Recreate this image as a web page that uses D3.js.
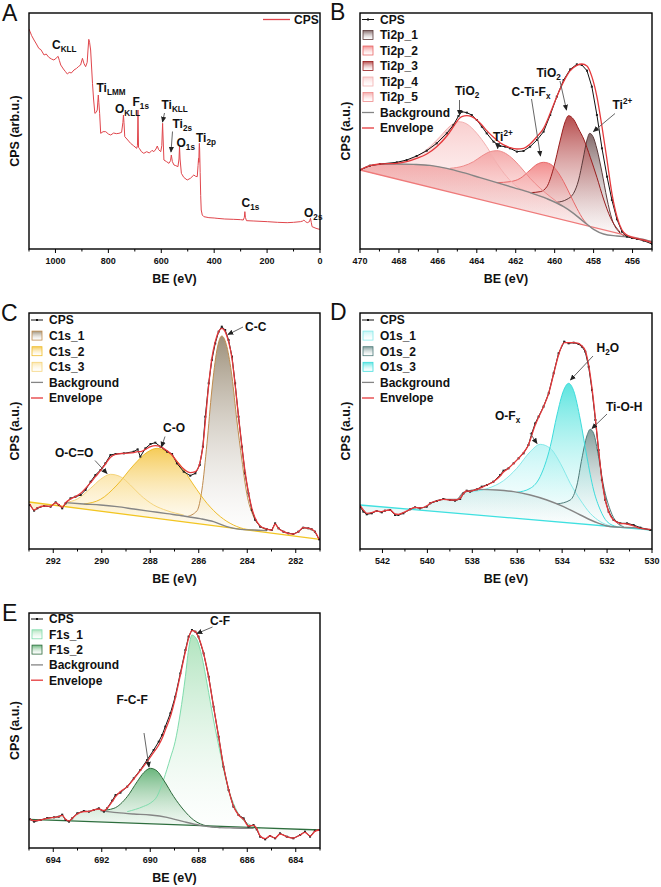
<!DOCTYPE html>
<html><head><meta charset="utf-8">
<script src="https://cdn.jsdelivr.net/npm/d3@7"></script>
<style>body{margin:0;background:#fff}svg{display:block}text{font-family:"Liberation Sans",Arial,sans-serif}</style>
</head><body><svg id="c" width="661" height="887"></svg>
<script>
// ---------- DATA (BE in eV, intensity in arbitrary units) ----------
const survey = [[1100,660],[1096,652],[1090,640],[1081,627],[1072,615],[1063,602],[1055,598],[1043,582],[1035,585],[1025,575],[1015,570],[1006,567],[998,572],[990,578],[985,565],[980,552],[970,540],[962,532],[955,525],[948,530],[940,528],[930,537],[920,542],[912,548],[905,552],[898,572],[892,556],[886,547],[880,560],[877,597],[874,629],[871,620],[867,597],[863,540],[860,497],[856,450],[851,407],[846,410],[842,417],[838,462],[836,440],[833,407],[829,347],[820,352],[810,352],[800,345],[791,342],[780,348],[770,346],[760,347],[750,350],[745,380],[743,402],[741,380],[738,337],[730,330],[716,317],[705,310],[693,302],[690,310],[688,417],[686,305],[683,302],[675,292],[666,287],[655,292],[645,288],[635,296],[628,292],[620,300],[615,309],[610,298],[602,292],[598,310],[595,377],[593,330],[590,267],[580,262],[571,257],[565,265],[562,282],[558,262],[552,252],[545,250],[537,247],[533,270],[531,307],[529,270],[524,227],[515,215],[502,207],[490,212],[477,222],[470,218],[464,217],[461,250],[459,272],[458,260],[457,300],[456,317],[455,300],[453,230],[451,160],[449,117],[445,102],[439,97],[420,94],[400,93],[389,92],[360,90],[326,89],[300,88],[290,87],[286,95],[284,112],[282,95],[278,85],[250,84],[199,82],[160,80],[124,79],[100,80],[74,82],[65,84],[61,87],[55,82],[48,79],[40,82],[36,92],[33,80],[30,67],[15,62],[2,59],[0,58]];

const tiBE  = [470.00,469.49,468.97,468.11,467.60,467.09,466.57,466.06,465.54,465.20,464.94,464.77,464.51,464.26,464.00,463.74,463.49,463.14,462.80,462.54,462.29,461.94,461.60,461.26,460.91,460.57,460.23,459.89,459.54,459.20,458.86,458.60,458.34,458.09,457.83,457.57,457.31,457.06,456.80,456.54,456.29,456.03,455.77,455.43,455.00];
const tiCPS = [237,250,255,260,267,279,295,317,347,372,399,412,409,402,387,367,347,322,309,307,302,292,294,307,327,352,402,457,507,539,554,552,535,487,402,302,217,147,89,52,37,33,30,25,15];
const tiEnv = [237,250,255,257,262,272,285,307,339,367,389,397,400,397,387,372,355,335,319,310,304,300,302,315,337,362,407,457,502,535,551,555,549,517,457,367,267,167,97,57,42,35,31,27,19];
const tiBg  = [[470.00,237],[469.49,250],[468.97,254],[468.11,255],[467.26,254],[466.40,251],[465.54,242],[464.69,229],[463.83,214],[462.97,199],[462.11,184],[461.26,169],[460.40,151],[459.54,127],[459.03,107],[458.51,82],[458.00,59],[457.49,45],[456.80,39],[456.11,35],[455.43,29],[455.00,22]];
const tiBase = [[470,237],[455,22]];
const ti2p1 = [[459.89,140],[459.37,149],[459.03,167],[458.77,207],[458.55,267],[458.34,327],[458.20,347],[458.03,337],[457.83,300],[457.57,230],[457.31,150],[457.06,90],[456.71,52],[456.29,37]];
const ti2p2 = [[462.97,199],[462.29,202],[461.77,212],[461.26,237],[460.91,254],[460.57,260],[460.23,255],[459.89,235],[459.54,202],[459.20,162],[458.86,122],[458.51,87],[458.00,59]];
const ti2p3 = [[461.26,169],[460.74,172],[460.40,187],[460.06,242],[459.71,327],[459.46,382],[459.29,400],[459.03,389],[458.77,360],[458.51,330],[458.17,275],[457.83,215],[457.49,150],[457.14,95],[456.63,50]];
const ti2p4 = [[468.97,254],[467.77,262],[467.09,277],[466.40,307],[465.89,337],[465.37,369],[464.94,382],[464.51,375],[464.00,347],[463.49,307],[462.97,257],[462.46,217],[461.94,187],[461.26,170],[460.40,151]];
const ti2p5 = [[465.37,242],[464.69,249],[464.17,262],[463.74,279],[463.31,292],[462.97,295],[462.63,290],[462.20,273],[461.77,247],[461.26,212],[460.74,182],[460.23,157],[459.54,127]];

const cBE  = [292.96,292.79,292.66,292.38,292.11,291.90,291.77,291.63,291.49,291.29,291.08,290.87,290.67,290.46,290.26,290.05,289.85,289.64,289.43,289.09,288.68,288.52,288.41,288.20,287.99,287.79,287.58,287.31,287.10,286.90,286.62,286.35,286.14,285.96,285.83,285.73,285.59,285.46,285.32,285.18,285.05,284.91,284.77,284.63,284.50,284.36,284.22,284.09,283.95,283.81,283.67,283.47,283.19,282.99,282.85,282.71,282.51,282.30,282.10,281.89,281.69,281.48,281.34,281.21,281.04];
const cCPS = [132,115,122,129,127,140,132,122,137,152,157,162,177,202,222,237,257,282,285,287,292,299,277,302,315,319,307,292,285,257,232,220,227,252,307,397,497,567,617,652,667,657,627,577,497,397,307,227,167,117,87,67,59,57,77,62,52,47,45,52,64,62,59,52,29];
const cEnv = [135,117,123,129,128,139,133,125,139,150,157,167,182,199,217,235,255,275,284,287,289,292,292,299,307,310,307,295,282,262,240,229,232,257,307,382,492,572,622,652,662,652,622,572,492,397,307,232,169,122,92,69,60,57,75,62,52,47,45,52,64,62,59,52,29];
const cBg  = [[291.49,139],[290.74,135],[290.05,132],[289.37,127],[288.68,120],[287.99,113],[287.31,106],[286.62,99],[285.94,91],[285.39,82],[284.84,67],[284.29,59],[283.74,57],[283.19,55]];
const cBase = [[293,141],[281,29]];
const c1s1 = [[286.49,97],[286.07,115],[285.87,177],[285.66,317],[285.46,477],[285.25,597],[285.05,639],[284.84,607],[284.63,517],[284.43,387],[284.22,267],[284.02,167],[283.74,97],[283.47,69],[283.19,57]];
const c1s2 = [[290.74,135],[290.05,149],[289.37,192],[288.68,252],[288.13,290],[287.72,302],[287.31,292],[286.76,252],[286.21,192],[285.66,137],[285.11,97],[284.57,72],[284.02,59],[283.47,56]];
const c1s3 = [[291.49,139],[291.01,150],[290.46,182],[290.05,209],[289.64,224],[289.23,217],[288.82,192],[288.41,162],[287.86,132],[287.31,115],[286.62,102]];

const dBE  = [543.00,542.85,542.70,542.48,542.26,542.03,541.89,541.66,541.44,541.29,541.07,540.77,540.55,540.33,540.03,539.88,539.58,539.29,538.99,538.77,538.54,538.39,538.25,538.10,537.80,537.58,537.35,537.06,536.76,536.61,536.39,536.16,535.94,535.72,535.50,535.35,535.20,535.05,534.83,534.60,534.38,534.16,533.91,533.71,533.49,533.27,533.12,532.97,532.82,532.67,532.52,532.38,532.23,532.08,531.93,531.71,531.41,531.11,530.82,530.52,530.07];
const dCPS = [127,112,104,107,114,110,115,117,102,102,107,119,125,122,127,137,144,150,147,145,150,167,175,172,179,187,192,202,222,235,242,257,272,287,312,347,377,397,427,467,527,587,622,617,619,615,607,592,547,477,387,297,207,147,112,87,77,77,72,64,57];
const dEnv = [132,117,107,109,114,112,115,117,105,104,109,119,125,123,129,137,144,149,147,147,152,167,174,173,179,185,192,202,219,231,242,257,272,289,312,342,372,395,427,467,525,582,619,619,619,617,609,595,552,482,392,299,209,147,112,87,77,75,69,62,59];
const dBg  = [[539.88,137],[539.29,149],[538.69,149],[538.39,170],[537.65,179],[536.91,177],[536.16,172],[535.42,162],[534.68,147],[533.94,127],[533.19,102],[532.45,79],[532.00,69],[531.41,65],[530.82,64],[530.07,57]];
const dBase = [[543,132],[530,57]];
const o1s1 = [[538.10,171],[537.35,181],[536.61,205],[536.02,242],[535.42,292],[534.98,314],[534.53,302],[534.08,257],[533.64,197],[533.19,147],[532.75,107],[532.30,82],[531.86,69]];
const o1s2 = [[534.23,135],[533.64,147],[533.34,192],[533.12,272],[532.90,339],[532.75,359],[532.60,347],[532.38,277],[532.15,187],[531.86,117],[531.56,79],[531.26,67]];
const o1s3 = [[536.02,170],[535.42,182],[534.98,217],[534.53,307],[534.23,402],[533.94,475],[533.71,497],[533.49,475],[533.19,387],[532.90,277],[532.60,177],[532.30,117],[532.00,82],[531.56,67]];

const eBE  = [694.96,694.79,694.52,694.25,693.97,693.77,693.63,693.49,693.35,693.22,693.01,692.74,692.53,692.33,692.12,691.91,691.78,691.57,691.43,691.23,690.95,690.68,690.41,690.13,689.86,689.65,689.51,689.38,689.17,688.97,688.76,688.55,688.42,688.28,688.14,688.01,687.80,687.59,687.39,687.18,686.98,686.77,686.57,686.36,686.15,685.95,685.74,685.61,685.47,685.26,685.06,684.85,684.65,684.37,684.10,683.82,683.62,683.41,683.21,683.03];
const eCPS = [86,79,84,90,92,94,100,84,79,89,104,111,109,114,119,109,119,142,159,166,184,209,234,264,294,319,339,364,404,454,524,594,634,654,649,634,584,514,424,334,244,174,124,99,89,64,69,56,34,26,36,29,44,34,29,39,49,34,52,54];
const eEnv = [86,82,84,89,92,94,98,86,81,89,102,109,110,114,117,112,119,139,154,169,184,207,232,259,287,309,329,354,394,449,519,589,629,652,649,632,584,512,424,334,246,176,126,99,86,66,68,58,36,28,36,30,42,34,30,39,47,36,50,54];
const eBg  = [[692.05,112],[691.37,106],[690.68,102],[690.00,99],[689.31,92],[688.62,79],[687.94,68],[687.25,62],[686.57,60],[685.74,59]];
const eBase = [[695,86],[683,54]];
const f1s1 = [[690.95,109],[690.27,125],[689.99,135],[689.72,155],[689.45,205],[689.17,270],[688.97,320],[688.76,405],[688.55,515],[688.42,595],[688.28,639],[688.07,624],[687.87,574],[687.66,494],[687.39,384],[687.11,284],[686.84,194],[686.57,134],[686.29,94],[685.88,69],[685.47,60]];
const f1s2 = [[692.05,112],[691.50,119],[690.95,154],[690.54,199],[690.27,226],[689.99,239],[689.72,231],[689.45,204],[689.03,154],[688.62,114],[688.21,84],[687.66,66],[687.11,61]];

const ticksA = [1000,800,600,400,200,0];
const ticksB = [470,468,466,464,462,460,458,456];
const ticksC = [292,290,288,286,284,282];
const ticksD = [542,540,538,536,534,532,530];
const ticksE = [694,692,690,688,686,684];

// ---------- DRAWING ----------
const svg = d3.select('#c');
const defs = svg.append('defs');
defs.append('marker').attr('id','arr').attr('viewBox','0 0 8 8').attr('refX',7).attr('refY',4)
  .attr('markerWidth',6).attr('markerHeight',6).attr('markerUnits','userSpaceOnUse').attr('orient','auto')
  .append('path').attr('d','M0,0.5 L8,4 L0,7.5 Z').attr('fill','#222');

const ENV='#e5393c', BG='#858585';

function panel(o){
  const g = svg.append('g');
  const x = d3.scaleLinear().domain(o.xd).range([o.x0,o.x1]);
  const y = d3.scaleLinear().domain([0,o.ymax]).range([o.y1,o.y0]);
  const cid='clip'+o.id;
  defs.append('clipPath').attr('id',cid).append('rect').attr('x',o.x0).attr('y',o.y0).attr('width',o.x1-o.x0).attr('height',o.y1-o.y0);
  const pg = g.append('g').attr('clip-path',`url(#${cid})`);
  return {g,pg,x,y,o};
}

function frame(P, labelTicks, step, minorStep, ytitle){
  const {g,x,o}=P;
  const lo=Math.min(...o.xd), hi=Math.max(...o.xd);
  const minors=d3.range(Math.ceil(lo/minorStep)*minorStep, hi+1e-6, minorStep);
  g.selectAll(null).data(minors).enter().append('line')
    .attr('x1',d=>x(d)).attr('x2',d=>x(d)).attr('y1',o.y1).attr('y2',d=>o.y1+(Math.abs(d/step-Math.round(d/step))<1e-6?4:2.5))
    .attr('stroke','#000').attr('stroke-width',1);
  g.selectAll(null).data(labelTicks).enter().append('text')
    .attr('x',d=>x(d)).attr('y',o.y1+14.5).attr('text-anchor','middle')
    .attr('font-size',9).attr('font-weight','bold').attr('fill','#111').text(d=>d);
  g.append('rect').attr('x',o.x0).attr('y',o.y0).attr('width',o.x1-o.x0).attr('height',o.y1-o.y0)
    .attr('fill','none').attr('stroke','#000').attr('stroke-width',1.4);
  g.append('text').attr('x',(o.x0+o.x1)/2).attr('y',o.y1+34).attr('text-anchor','middle')
    .attr('font-size',12.5).attr('font-weight','bold').attr('fill','#111').text('BE (eV)');
  g.append('text').attr('transform',`translate(${o.x0-10},${(o.y0+o.y1)/2}) rotate(-90)`).attr('text-anchor','middle')
    .attr('font-size',12.5).attr('font-weight','bold').attr('fill','#111').text(ytitle);
  svg.append('text').attr('x',o.lx).attr('y',o.ly).attr('font-size',23).attr('fill','#111').text(o.letter);
}

function rich(g,x,y,segs,size){
  const t=g.append('text').attr('x',x).attr('y',y).attr('font-size',size).attr('font-weight','bold').attr('fill','#111');
  let sh=0;
  segs.forEach(s=>{
    const kind=s[1]||'';
    const tgt=kind==='sub'?3:(kind==='sup'?-5:0);
    t.append('tspan').attr('dy',tgt-sh).attr('font-size',kind?size*0.68:size).text(s[0]);
    sh=tgt;
  });
}
function arrow(g,a){
  g.append('line').attr('x1',a[0]).attr('y1',a[1]).attr('x2',a[2]).attr('y2',a[3])
    .attr('stroke','#555').attr('stroke-width',0.9).attr('marker-end','url(#arr)');
}

function fit(P, d){
  const {pg,x,y,o}=P;
  const cps=d.be.map((e,i)=>[e,d.cps[i]]);
  const env=d.be.map((e,i)=>[e,d.env[i]]);
  const b0=d.bg[0][0], b1=d.bg[d.bg.length-1][0];
  const bgExt=cps.filter(p=>p[0]>b0+0.01).concat(d.bg, cps.filter(p=>p[0]<b1-0.01));
  const base=e=>d.base[0][1]+(e-d.base[0][0])*(d.base[1][1]-d.base[0][1])/(d.base[1][0]-d.base[0][0]);
  const curve=d3.curveMonotoneX;
  d.comps.forEach((c,k)=>{
    const f=c.pts[0][0], l=c.pts[c.pts.length-1][0];
    const full=bgExt.filter(p=>p[0]>f+0.01).concat(c.pts, bgExt.filter(p=>p[0]<l-0.01));
    const gid=`gr${o.id}${k}`;
    const gr=defs.append('linearGradient').attr('id',gid).attr('x1',0).attr('y1',0).attr('x2',0).attr('y2',1);
    gr.append('stop').attr('offset',0).attr('stop-color',c.fill).attr('stop-opacity',c.op||0.85);
    gr.append('stop').attr('offset',1).attr('stop-color','#fff').attr('stop-opacity',0.25);
    c.gid=gid;
    pg.append('path').datum(full).attr('fill',`url(#${gid})`)
      .attr('d',d3.area().x(p=>x(p[0])).y0(p=>y(base(p[0]))).y1(p=>y(p[1])).curve(curve));
  });
  d.comps.forEach(c=>{
    pg.append('path').datum(c.pts).attr('fill','none').attr('stroke',c.stroke).attr('stroke-width',1)
      .attr('d',d3.line().x(p=>x(p[0])).y(p=>y(p[1])).curve(curve));
  });
  pg.append('path').datum(d.base).attr('fill','none').attr('stroke',d.baseColor).attr('stroke-width',1.3)
    .attr('d',d3.line().x(p=>x(p[0])).y(p=>y(p[1])));
  pg.append('path').datum(d.bg).attr('fill','none').attr('stroke',BG).attr('stroke-width',1.4)
    .attr('d',d3.line().x(p=>x(p[0])).y(p=>y(p[1])).curve(curve));
  pg.append('path').datum(cps).attr('fill','none').attr('stroke','#111').attr('stroke-width',1)
    .attr('d',d3.line().x(p=>x(p[0])).y(p=>y(p[1])));
  pg.selectAll(null).data(cps).enter().append('rect')
    .attr('x',p=>x(p[0])-1).attr('y',p=>y(p[1])-1).attr('width',2).attr('height',2).attr('fill','#222');
  pg.append('path').datum(env).attr('fill','none').attr('stroke',ENV).attr('stroke-width',1.3)
    .attr('d',d3.line().x(p=>x(p[0])).y(p=>y(p[1])).curve(curve));
  // legend
  const items=[{n:'CPS',t:'cps'}].concat(d.comps.map(c=>({n:c.name,t:'sw',c}))).concat([{n:'Background',t:'ln',col:BG},{n:'Envelope',t:'ln',col:ENV}]);
  items.forEach((it,i)=>{
    const cy=o.y0+d.lg[1]+i*d.lg[2], sx=o.x0+d.lg[0];
    if(it.t==='cps'){
      P.g.append('line').attr('x1',sx-1).attr('x2',sx+11).attr('y1',cy).attr('y2',cy).attr('stroke','#111').attr('stroke-width',1);
      P.g.append('rect').attr('x',sx+4).attr('y',cy-1).attr('width',2).attr('height',2).attr('fill','#111');
    } else if(it.t==='sw'){
      P.g.append('rect').attr('x',sx).attr('y',cy-4.5).attr('width',10).attr('height',9)
        .attr('fill',`url(#${it.c.gid})`).attr('stroke',it.c.stroke).attr('stroke-width',0.8);
    } else {
      P.g.append('line').attr('x1',sx-1).attr('x2',sx+11).attr('y1',cy).attr('y2',cy).attr('stroke',it.col).attr('stroke-width',1.3);
    }
    P.g.append('text').attr('x',o.x0+d.lg[0]+17).attr('y',cy+4.3).attr('font-size',12)
      .attr('font-weight','bold').attr('fill','#111').text(it.n);
  });
  d.ann.forEach(a=>{ rich(P.g,a.x,a.y,a.t,12); if(a.a) arrow(P.g,a.a); });
}

// ---- Panel A ----
const PA = panel({id:'A',xd:[1100,0],x0:29,x1:320,y0:13,y1:249,ymax:708,letter:'A',lx:2,ly:21});
PA.pg.append('path').datum(survey).attr('fill','none').attr('stroke','#e0464c').attr('stroke-width',1)
  .attr('d',d3.line().x(p=>PA.x(p[0])).y(p=>PA.y(p[1])));
frame(PA, ticksA, 200, 100, 'CPS (arb.u.)');
PA.g.append('line').attr('x1',263).attr('x2',290).attr('y1',19.5).attr('y2',19.5).attr('stroke','#e0464c').attr('stroke-width',1.3);
PA.g.append('text').attr('x',294).attr('y',23.8).attr('font-size',12).attr('font-weight','bold').attr('fill','#111').text('CPS');
const annA=[
  {x:52,y:49,t:[['C'],['KLL','sub']]},
  {x:96.5,y:91.5,t:[['Ti'],['LMM','sub']]},
  {x:115,y:113,t:[['O'],['KLL','sub']]},
  {x:132.5,y:106,t:[['F'],['1s','sub']]},
  {x:161.5,y:109,t:[['Ti'],['KLL','sub']],a:[164.5,113,162.5,122]},
  {x:172.5,y:128,t:[['Ti'],['2s','sub']],a:[172.5,131.5,171,152]},
  {x:176.5,y:146.5,t:[['O'],['1s','sub']]},
  {x:196,y:141.5,t:[['Ti'],['2p','sub']]},
  {x:241.5,y:206.5,t:[['C'],['1s','sub']]},
  {x:304,y:217,t:[['O'],['2s','sub']]}
];
annA.forEach(a=>{ rich(PA.g,a.x,a.y,a.t,12); if(a.a) arrow(PA.g,a.a); });

// ---- Panel B ----
const PB = panel({id:'B',xd:[470,455],x0:360,x1:652,y0:13,y1:249,ymax:708,letter:'B',lx:330,ly:20});
fit(PB,{be:tiBE,cps:tiCPS,env:tiEnv,bg:tiBg,base:tiBase,baseColor:'#ef7a7a',lg:[3,6.5,15.5],
  comps:[
    {name:'Ti2p_1',pts:ti2p1,fill:'#6e4f4f',stroke:'#5b3a3a'},
    {name:'Ti2p_2',pts:ti2p2,fill:'#f07878',stroke:'#e86868'},
    {name:'Ti2p_3',pts:ti2p3,fill:'#a82a2a',stroke:'#981c1c'},
    {name:'Ti2p_4',pts:ti2p4,fill:'#f8c6c6',stroke:'#f3b0b0'},
    {name:'Ti2p_5',pts:ti2p5,fill:'#f39c9c',stroke:'#ee8a8a'}],
  ann:[
    {x:455,y:95,t:[['TiO'],['2','sub']],a:[459.5,100,459.5,115]},
    {x:493,y:141,t:[['Ti'],['2+','sup']],a:[497.7,143,497.7,148.5]},
    {x:511.5,y:96,t:[['C-Ti-F'],['x','sub']],a:[531.5,99,540.5,156]},
    {x:536.5,y:77,t:[['TiO'],['2','sub']],a:[560,81,566.5,110]},
    {x:612.5,y:109,t:[['Ti'],['2+','sup']],a:[615,113.5,593.5,131.5]}]});
frame(PB, ticksB, 2, 1, 'CPS (a.u.)');

// ---- Panel C ----
const PC = panel({id:'C',xd:[293,281],x0:29,x1:320,y0:313,y1:549,ymax:708,letter:'C',lx:1,ly:321});
fit(PC,{be:cBE,cps:cCPS,env:cEnv,bg:cBg,base:cBase,baseColor:'#f2c521',lg:[3,7,15.6],
  comps:[
    {name:'C1s_1',pts:c1s1,fill:'#8c7c62',stroke:'#c08c4e'},
    {name:'C1s_2',pts:c1s2,fill:'#f4c23a',stroke:'#efbd2c'},
    {name:'C1s_3',pts:c1s3,fill:'#fbe29e',stroke:'#f5d47c'}],
  ann:[
    {x:245,y:331,t:[['C-C']],a:[243,327,228,334.5]},
    {x:163,y:432,t:[['C-O']],a:[165,436.5,161.5,447]},
    {x:55,y:457,t:[['O-C=O']],a:[95,460.5,107,473.5]}]});
frame(PC, ticksC, 2, 1, 'CPS (a.u.)');

// ---- Panel D ----
const PD = panel({id:'D',xd:[543,530],x0:360,x1:652,y0:313,y1:549,ymax:708,letter:'D',lx:330,ly:320});
fit(PD,{be:dBE,cps:dCPS,env:dEnv,bg:dBg,base:dBase,baseColor:'#3fe0e0',lg:[3,7,15.6],
  comps:[
    {name:'O1s_1',pts:o1s1,fill:'#b5f3f3',stroke:'#86e9e9'},
    {name:'O1s_2',pts:o1s2,fill:'#6c8e8b',stroke:'#4f7c7a'},
    {name:'O1s_3',pts:o1s3,fill:'#3fe0da',stroke:'#3ddcdc'}],
  ann:[
    {x:596.5,y:352,t:[['H'],['2','sub'],['O']],a:[593,356,570.5,380]},
    {x:606,y:411,t:[['Ti-O-H']],a:[607,414,592,428.5]},
    {x:495,y:420,t:[['O-F'],['x','sub']],a:[530,433,537,443.5]}]});
frame(PD, ticksD, 2, 1, 'CPS (a.u.)');

// ---- Panel E ----
const PE = panel({id:'E',xd:[695,683],x0:29,x1:320,y0:613,y1:848,ymax:705,letter:'E',lx:2,ly:621});
fit(PE,{be:eBE,cps:eCPS,env:eEnv,bg:eBg,base:eBase,baseColor:'#2e6e3e',lg:[3,6,15.3],
  comps:[
    {name:'F1s_1',pts:f1s1,fill:'#a3dfb3',stroke:'#7fdcac'},
    {name:'F1s_2',pts:f1s2,fill:'#4fa864',stroke:'#2d6a3c'}],
  ann:[
    {x:210,y:625,t:[['C-F']],a:[212.5,627,197,633.5]},
    {x:116.5,y:704,t:[['F-C-F']],a:[144,733,149,767]}]});
frame(PE, ticksE, 2, 1, 'CPS (a.u.)');
</script></body></html>
